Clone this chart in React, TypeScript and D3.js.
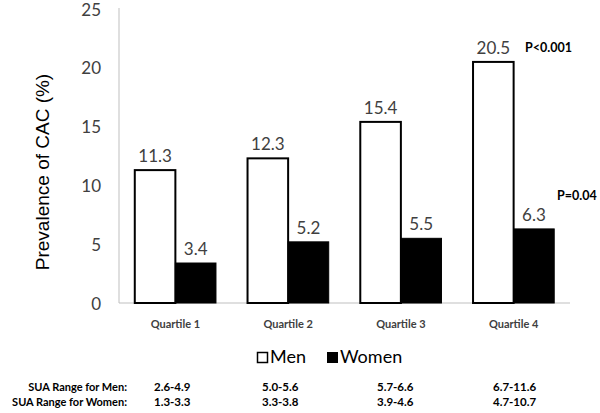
import React from "react";
import * as d3 from "d3";

const quartiles = ["Quartile 1", "Quartile 2", "Quartile 3", "Quartile 4"];
const menValues = [11.3, 12.3, 15.4, 20.5];
const womenValues = [3.4, 5.2, 5.5, 6.3];
const yTicks = [0, 5, 10, 15, 20, 25];
const menRanges = ["2.6-4.9", "5.0-5.6", "5.7-6.6", "6.7-11.6"];
const womenRanges = ["1.3-3.3", "3.3-3.8", "3.9-4.6", "4.7-10.7"];
const series = ["Men", "Women"];
const pValues = ["P<0.001", "P=0.04"];

export default function App() {
  const W = 600, H = 413;
  const left = 119, right = 570, top = 9, bottom = 303;
  const x = d3.scaleBand<string>().domain(quartiles).range([left, right]).paddingInner(0.28).paddingOuter(0.14);
  const xs = d3.scaleBand<string>().domain(series).range([0, x.bandwidth()]);
  const y = d3.scaleLinear().domain([0, 25]).range([bottom, top]);
  const gray = "#404040";
  const font = "Lato, sans-serif";
  const colX = [154, 262, 377, 493];

  return (
    <svg width={W} height={H} style={{ position: "absolute", left: 0, top: 0, background: "#fff" }}>
      <rect x={0} y={0} width={W} height={H} fill="#fff" />
      <line x1={left} x2={left} y1={8} y2={bottom} stroke="#bfbfbf" strokeWidth={1} />
      <line x1={left} x2={right} y1={bottom} y2={bottom} stroke="#bfbfbf" strokeWidth={1} />
      {yTicks.map((t) => (
        <text key={t} x={101} y={y(t) + 6.5} textAnchor="end" fontSize={17} fill={gray} fontFamily={font}>
          {t}
        </text>
      ))}
      <text
        transform={`translate(49,172) rotate(-90)`}
        textAnchor="middle"
        fontSize={19}
        fill="#000"
        fontFamily="'Liberation Sans', Arial, sans-serif"
      >
        Prevalence of CAC (%)
      </text>
      {quartiles.map((q, i) => {
        const x0 = x(q)!;
        const mx = x0 + xs("Men")!;
        const wx = x0 + xs("Women")!;
        const bw = xs.bandwidth();
        return (
          <g key={q}>
            <rect x={mx} y={y(menValues[i])} width={bw} height={bottom - y(menValues[i])} fill="#fff" stroke="#000" strokeWidth={2} />
            <rect x={wx} y={y(womenValues[i])} width={bw} height={bottom - y(womenValues[i])} fill="#000" stroke="#000" strokeWidth={1} />
            <text x={mx + bw / 2} y={y(menValues[i]) - 8} textAnchor="middle" fontSize={17} fill={gray} fontFamily={font}>
              {menValues[i]}
            </text>
            <text x={wx + bw / 2} y={y(womenValues[i]) - 8} textAnchor="middle" fontSize={17} fill={gray} fontFamily={font}>
              {womenValues[i]}
            </text>
            <text x={x0 + x.bandwidth() / 2} y={328} textAnchor="middle" fontSize={11} fontWeight={700} fill={gray} fontFamily={font}>
              {q}
            </text>
            <text x={colX[i]} y={391} fontSize={11.5} fontWeight={700} fill="#000" fontFamily={font}>
              {menRanges[i]}
            </text>
            <text x={colX[i]} y={406} fontSize={11.5} fontWeight={700} fill="#000" fontFamily={font}>
              {womenRanges[i]}
            </text>
          </g>
        );
      })}
      <text x={525} y={52} fontSize={12.5} fontWeight={700} fill="#000" fontFamily={font}>{pValues[0]}</text>
      <text x={557} y={200} fontSize={12.5} fontWeight={700} fill="#000" fontFamily={font}>{pValues[1]}</text>
      <rect x={257.5} y={352.5} width={10} height={10} fill="#fff" stroke="#000" strokeWidth={1.5} />
      <text x={270} y={363} fontSize={18} fill="#000" fontFamily={font}>{series[0]}</text>
      <rect x={327} y={352} width={11} height={11} fill="#000" />
      <text x={340} y={363} fontSize={18} fill="#000" fontFamily={font}>{series[1]}</text>
      <text x={127} y={391} textAnchor="end" fontSize={11} fontWeight={700} fill="#000" fontFamily={font}>SUA Range for Men:</text>
      <text x={127} y={406} textAnchor="end" fontSize={11} fontWeight={700} fill="#000" fontFamily={font}>SUA Range for Women:</text>
    </svg>
  );
}
